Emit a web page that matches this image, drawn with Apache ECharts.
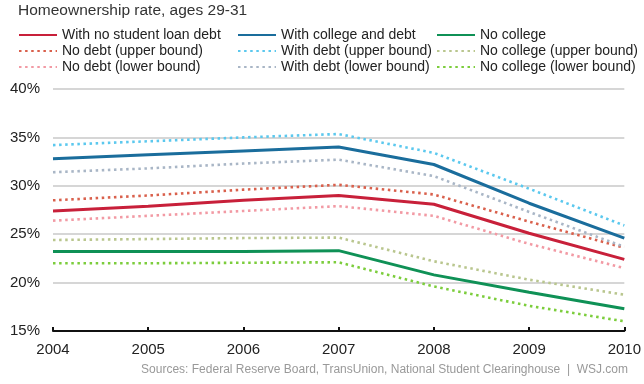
<!DOCTYPE html>
<html>
<head>
<meta charset="utf-8">
<script src="https://cdn.jsdelivr.net/npm/echarts@6/dist/echarts.min.js"></script>
<style>
html,body{margin:0;padding:0;background:#fff;}
#chart{width:644px;height:384px;}
</style>
</head>
<body>
<div id="chart"></div>
<script>
const years = ['2004','2005','2006','2007','2008','2009','2010'];
const yTicks = [15, 20, 25, 30, 35, 40];

const noDebt        = [27.4, 27.9, 28.5, 29.0, 28.1, 25.1, 22.4];
const collegeDebt   = [32.8, 33.2, 33.6, 34.0, 32.2, 28.2, 24.6];
const noCollege     = [23.2, 23.2, 23.2, 23.3, 20.8, 19.0, 17.3];
const noDebtUpper   = [28.5, 29.0, 29.6, 30.1, 29.1, 26.3, 23.6];
const noDebtLower   = [26.4, 26.9, 27.4, 27.9, 26.9, 24.0, 21.5];
const withDebtUpper = [34.2, 34.6, 35.0, 35.35, 33.4, 29.7, 25.9];
const withDebtLower = [31.4, 31.8, 32.3, 32.7, 31.0, 27.3, 23.7];
const ncUpper       = [24.4, 24.5, 24.6, 24.65, 22.2, 20.3, 18.75];
const ncLower       = [22.0, 22.0, 22.05, 22.1, 19.6, 17.6, 16.0];

const FONT = "'Liberation Sans', Arial, sans-serif";

function solid(name, data, color) {
  return { name, type: 'line', data, symbol: 'none', smooth: false,
    lineStyle: { color, width: 3, type: 'solid' }, itemStyle: { color }, z: 3 };
}
function dotted(name, data, color) {
  return { name, type: 'line', data, symbol: 'none', smooth: false,
    lineStyle: { color, width: 2.6, type: [2.5, 3.6] }, itemStyle: { color }, z: 2 };
}

const chart = echarts.init(document.getElementById('chart'), null, { renderer: 'canvas' });
const legendBase = {
  orient: 'vertical', top: 28, itemWidth: 38, itemHeight: 14, itemGap: 2,
  selectedMode: false, padding: 0,
  itemStyle: { opacity: 0 },
  textStyle: { fontFamily: FONT, fontSize: 14, color: '#222' }
};
chart.setOption({
  animation: false,
  backgroundColor: '#fff',
  title: {
    text: 'Homeownership rate, ages 29-31', left: 18, top: 3, padding: 0,
    textStyle: { fontFamily: FONT, fontSize: 15.5, fontWeight: 'normal', color: '#333' }
  },
  graphic: [{
    type: 'text', right: 16, top: 364,
    style: { text: 'Sources: Federal Reserve Board, TransUnion, National Student Clearinghouse  |  WSJ.com',
      fontFamily: FONT, fontSize: 12, fill: '#999' }
  }],
  legend: [
    Object.assign({}, legendBase, { left: 18, data: ['With no student loan debt', 'No debt (upper bound)', 'No debt (lower bound)'] }),
    Object.assign({}, legendBase, { left: 237, data: ['With college and debt', 'With debt (upper bound)', 'With debt (lower bound)'] }),
    Object.assign({}, legendBase, { left: 436, data: ['No college', 'No college (upper bound)', 'No college (lower bound)'] })
  ],
  grid: { left: 53, right: 18, top: 89, bottom: 53, containLabel: false },
  xAxis: {
    type: 'category', data: years, boundaryGap: false,
    axisLine: { lineStyle: { color: '#111', width: 2 } },
    axisTick: { show: true, inside: true, length: 4, lineStyle: { color: '#111', width: 2 } },
    axisLabel: { fontFamily: FONT, fontSize: 15, color: '#222', margin: 11 },
    splitLine: { show: false }
  },
  yAxis: {
    type: 'value', min: yTicks[0], max: yTicks[yTicks.length - 1], interval: 5,
    axisLine: { show: false }, axisTick: { show: false },
    axisLabel: { fontFamily: FONT, fontSize: 15, color: '#222', margin: 13, formatter: '{value}%' },
    splitLine: { lineStyle: { color: '#c8c8c8', width: 1.5 } }
  },
  series: [
    dotted('No debt (upper bound)', noDebtUpper, '#d9604c'),
    dotted('No debt (lower bound)', noDebtLower, '#f29aa4'),
    dotted('With debt (upper bound)', withDebtUpper, '#5bc8ee'),
    dotted('With debt (lower bound)', withDebtLower, '#a9b6c6'),
    dotted('No college (upper bound)', ncUpper, '#b9c68e'),
    dotted('No college (lower bound)', ncLower, '#7ccd3c'),
    solid('With no student loan debt', noDebt, '#c8203a'),
    solid('With college and debt', collegeDebt, '#1a6d9c'),
    solid('No college', noCollege, '#0f9156')
  ]
});
</script>
</body>
</html>
